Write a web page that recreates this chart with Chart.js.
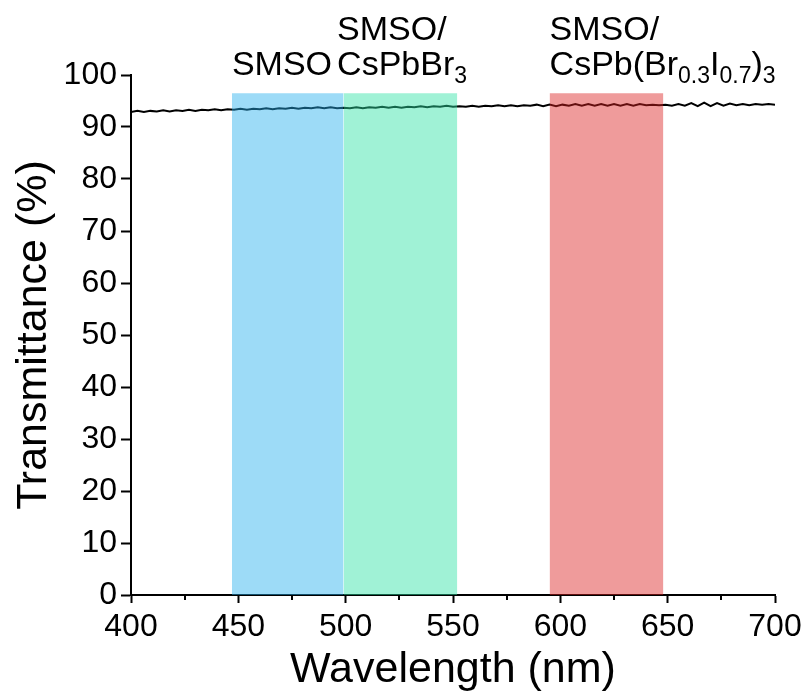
<!DOCTYPE html>
<html>
<head>
<meta charset="utf-8">
<script src="https://cdn.jsdelivr.net/npm/chart.js@4"></script>
<style>
  html, body { margin: 0; padding: 0; background: #ffffff; }
  #wrap { width: 809px; height: 696px; }
</style>
</head>
<body>
<div id="wrap"><canvas id="transChart" width="809" height="696"></canvas></div>
<script>
const wavelength = [
  400, 403, 406, 409, 412, 415, 418, 421, 424, 427, 430, 433, 436, 439, 442, 445, 448, 451, 454, 457,
  460, 463, 466, 469, 472, 475, 478, 481, 484, 487, 490, 493, 496, 499, 502, 505, 508, 511, 514, 517,
  520, 523, 526, 529, 532, 535, 538, 541, 544, 547, 550, 553, 556, 559, 562, 565, 568, 571, 574, 577,
  580, 583, 586, 589, 592, 595, 598, 601, 604, 607, 610, 613, 616, 619, 622, 625, 628, 631, 634, 637,
  640, 643, 646, 649, 652, 655, 658, 661, 664, 667, 670, 673, 676, 679, 682, 685, 688, 691, 694, 697,
  700
];
const transmittance = [
  92.9, 93.1, 92.9, 93.1, 93.0, 93.2, 93.0, 93.2, 93.1, 93.3, 93.1, 93.3, 93.2, 93.4, 93.2, 93.4, 93.3, 93.5, 93.3, 93.5,
  93.4, 93.6, 93.4, 93.6, 93.5, 93.7, 93.5, 93.7, 93.6, 93.8, 93.6, 93.8, 93.6, 93.7, 93.6, 93.8, 93.6, 93.8, 93.7, 93.9,
  93.7, 93.9, 93.7, 93.9, 93.8, 94.0, 93.8, 94.0, 93.9, 94.1, 93.9, 94.0, 93.9, 94.1, 93.9, 94.1, 94.0, 94.2, 94.0, 94.2,
  94.0, 94.2, 94.1, 94.3, 94.0, 94.3, 94.0, 94.3, 94.1, 94.4, 94.1, 94.4, 94.1, 94.4, 94.1, 94.4, 94.1, 94.4, 94.1, 94.4,
  94.2, 94.3, 94.2, 94.3, 94.1, 94.4, 94.1, 94.6, 94.0, 94.7, 94.0, 94.6, 94.1, 94.5, 94.2, 94.4, 94.2, 94.4, 94.3, 94.4,
  94.3
];

// shaded wavelength windows
const bandStart = [447, 499, 595];
const bandEnd = [499, 552, 648];
const bandTop = 96.5;
const bandColors = ['rgba(37,175,237,0.45)', 'rgba(44,226,164,0.45)', 'rgba(219,33,33,0.45)'];

// labels over the bands: lines of [text, subscript?]
const labelAt = [447, 496, 595];
const bandLabels = [
  [[['SMSO', false]]],
  [[['SMSO/', false]], [['CsPbBr', false], ['3', true]]],
  [[['SMSO/', false]], [['CsPb(Br', false], ['0.3', true], ['I', false], ['0.7', true], [')', false], ['3', true]]]
];

const xMinor = [425, 475, 525, 575, 625, 675];

const FONT = '"Liberation Sans", Arial, sans-serif';

const bandLabelPlugin = {
  id: 'bandLabels',
  afterDraw(chart) {
    const ctx = chart.ctx;
    const xs = chart.scales.x;
    const ys = chart.scales.y;
    ctx.save();
    ctx.fillStyle = '#000000';
    ctx.textBaseline = 'alphabetic';
    ctx.textAlign = 'left';
    bandLabels.forEach((lines, i) => {
      const x0 = xs.getPixelForValue(labelAt[i]);
      const base = ys.getPixelForValue(100);
      lines.forEach((parts, j) => {
        let x = x0;
        const y = base - (lines.length - 1 - j) * 35;
        parts.forEach(([txt, sub]) => {
          ctx.font = (sub ? '23px ' : '34px ') + FONT;
          ctx.fillText(txt, x, sub ? y + 8 : y);
          x += ctx.measureText(txt).width;
        });
      });
    });
    // minor ticks on x
    ctx.strokeStyle = '#000000';
    ctx.lineWidth = 2;
    const yb = chart.chartArea.bottom;
    xMinor.forEach(v => {
      const px = Math.round(xs.getPixelForValue(v));
      ctx.beginPath();
      ctx.moveTo(px, yb);
      ctx.lineTo(px, yb + 5);
      ctx.stroke();
    });
    ctx.restore();
  }
};

const datasets = [{
  label: 'Transmittance',
  data: wavelength.map((w, i) => ({ x: w, y: transmittance[i] })),
  borderColor: '#000000',
  borderWidth: 2,
  pointRadius: 0,
  tension: 0,
  fill: false,
  order: 2,
}];
bandStart.forEach((s, i) => {
  datasets.push({
    label: 'band' + i,
    data: [{ x: s, y: bandTop }, { x: bandEnd[i], y: bandTop }],
    borderColor: 'transparent',
    borderWidth: 0,
    backgroundColor: bandColors[i],
    pointRadius: 0,
    fill: 'origin',
    order: 1,
  });
});

const ctx = document.getElementById('transChart').getContext('2d');
const chart = new Chart(ctx, {
  type: 'scatter',
  data: { datasets: datasets },
  options: {
    responsive: false,
    animation: false,
    showLine: true,
    layout: { padding: { left: 0, top: 75, right: 34, bottom: 0 } },
    plugins: {
      legend: { display: false },
      tooltip: { enabled: false },
    },
    scales: {
      x: {
        type: 'linear',
        min: 400,
        max: 700,
        afterFit: s => { s.height = 101; },
        ticks: {
          stepSize: 50,
          color: '#000000',
          padding: 5,
          font: { family: FONT, size: 32 },
          maxRotation: 0,
        },
        grid: { drawOnChartArea: false, drawTicks: true, tickLength: 8, tickWidth: 2, tickColor: '#000000' },
        border: { display: true, color: '#000000', width: 2 },
        title: {
          display: true,
          text: 'Wavelength (nm)',
          color: '#000000',
          font: { family: FONT, size: 43 },
          padding: { top: 0, bottom: 0 },
        },
      },
      y: {
        min: 0,
        max: 100,
        afterFit: s => { s.width = 131; },
        ticks: {
          stepSize: 10,
          color: '#000000',
          padding: 4,
          font: { family: FONT, size: 32 },
        },
        grid: { drawOnChartArea: false, drawTicks: true, tickLength: 10, tickWidth: 2, tickColor: '#000000' },
        border: { display: true, color: '#000000', width: 2 },
        title: {
          display: true,
          text: 'Transmittance (%)',
          color: '#000000',
          font: { family: FONT, size: 43 },
          padding: { top: 8, bottom: 0 },
        },
      },
    },
  },
  plugins: [bandLabelPlugin],
});
</script>
</body>
</html>
